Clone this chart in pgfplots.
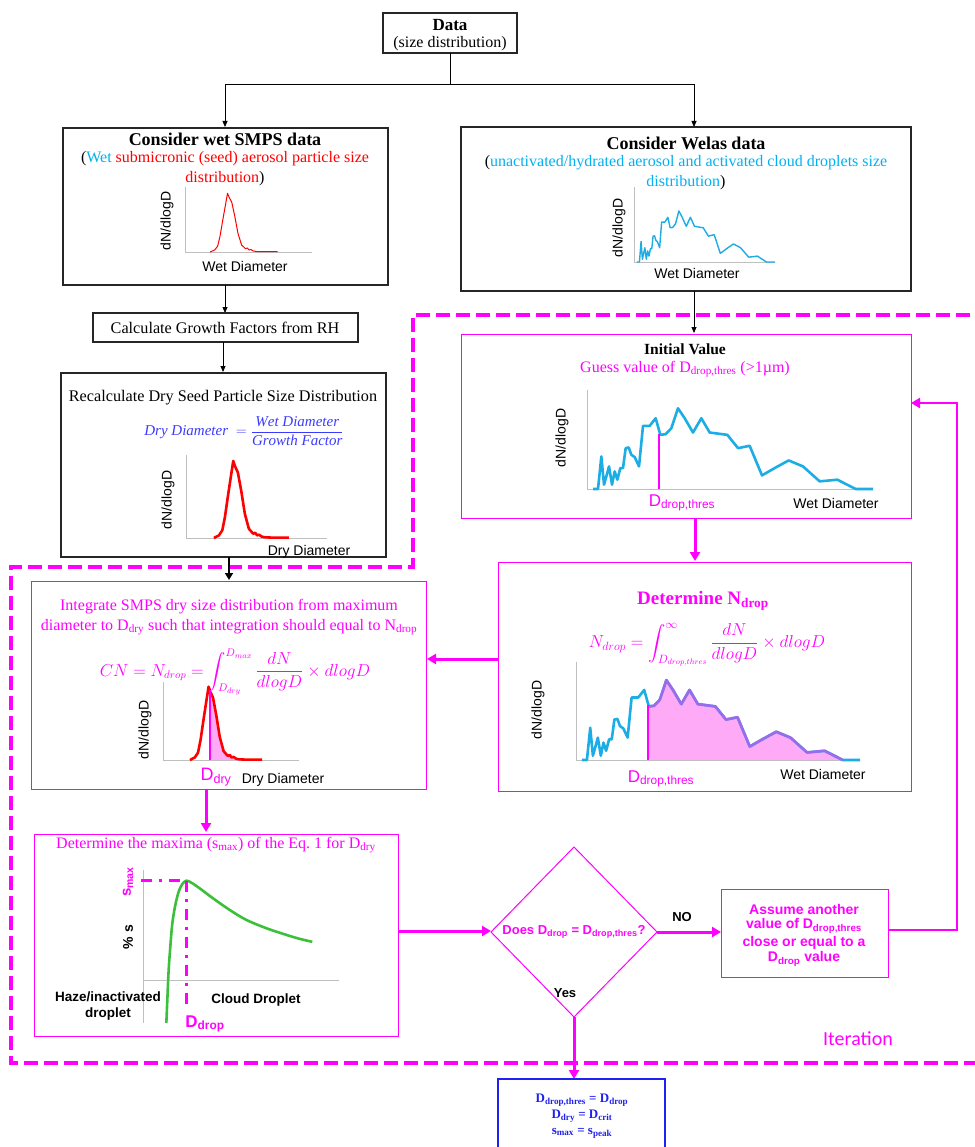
\documentclass[border=0pt]{standalone}
\usepackage{pgfplots}
\pgfplotsset{compat=1.18}
\usepackage{pgfplotstable}
\usetikzlibrary{arrows.meta}
\usepackage{exscale}
\usepackage{fontspec}
\setmainfont{Liberation Serif}
\setsansfont{Liberation Sans}
\newfontfamily\calibri{Carlito}
\definecolor{mag}{HTML}{FF00FF}
\definecolor{cyanl}{HTML}{1CADE4}
\definecolor{subcyan}{HTML}{00B0F0}
\definecolor{blu}{HTML}{3B3BFF}
\definecolor{fblue}{HTML}{2020F0}
\definecolor{grn}{HTML}{3CC03C}
\definecolor{pinkfill}{HTML}{FFAAF6}
\definecolor{purp}{HTML}{9A6BEA}
\definecolor{axgray}{HTML}{BFBFBF}
\newcommand\fs[1]{\fontsize{#1}{#1}\selectfont}
\newcommand\sub[1]{\textsubscript{#1}}

\pgfplotstableread{
x y
430 0
445 0
455 98
463 13
470 38
478 68
487 13
495 53
503 28
512 63
520 63
528 123
537 125
545 103
555 96
568 68
580 190
600 190
618 213
632 163
648 165
665 183
685 243
705 213
730 170
755 213
780 170
833 163
865 123
900 130
937 41
975 63
1017 86
1060 68
1110 23
1163 28
1218 0
1270 0
}\welas

\pgfplotstableread{
x y
630 167
632 163
648 165
665 183
685 243
705 213
730 170
755 213
780 170
833 163
865 123
900 130
937 41
975 63
1017 86
1060 68
1110 23
1163 28
1218 0
}\welasfill

\pgfplotstableread{
x y
84 0
99 8
109 23
117 63
127 133
136 193
142 233
147 218
156 198
166 143
177 73
189 28
202 13
208 16
214 8
220 10
228 4
239 2
264 1
309 1
}\smps

\pgfplotstableread{
x y
145 224
147 218
156 198
166 143
177 73
189 28
202 13
208 16
214 8
220 10
228 4
239 2
264 1
309 1
}\smpsfill

\pgfplotstableread{
x y
70 -128
73 -58
77 32
82 102
88 172
97 227
107 267
118 290
130 300
145 294
170 277
210 247
260 212
310 182
370 157
430 137
470 125
508 116
}\kohler

\pgfplotsset{
 mini/.style={scale only axis, axis x line=bottom, axis y line=left,
   axis line style={draw=axgray, line width=0.8pt, -},
   x axis line style={-}, y axis line style={-},
   every inner x axis line/.append style={-},
   every outer x axis line/.append style={-},
   every inner y axis line/.append style={-},
   every outer y axis line/.append style={-},
   xtick=\empty, ytick=\empty, clip=false, anchor=south west},
}

\begin{document}
\begin{tikzpicture}[x=1pt,y=1pt, >={Triangle[length=6pt,width=5pt]},
  magarrow/.style={mag, line width=3pt, -{Triangle[length=9pt,width=10pt]}},
  blkbox/.style={draw=black!85, line width=1.4pt},
  magbox/.style={draw=mag, line width=1pt}]
\path[use as bounding box] (0,0) rectangle (974,-1147);

% ---------- iteration dashed region ----------
\draw[mag, line width=4.7pt, dash pattern=on 14pt off 6pt, line join=miter]
  (990,-315) -- (413,-315) -- (413,-567) -- (11,-567) -- (11,-1063) -- (990,-1063);

% ---------- Data box ----------
\draw[blkbox] (383,-13) rectangle (517,-53);
\node[font=\bfseries\fs{17}] at (450,-25) {Data};
\node[font=\fs{16}] at (450,-44) {(size distribution)};
\draw[line width=0.8pt] (450,-53) -- (450,-84);
\draw[line width=0.8pt] (225,-84) -- (694,-84);
\draw[line width=0.8pt,->] (225,-84) -- (225,-127);
\draw[line width=0.8pt,->] (694,-84) -- (694,-127);

% ---------- Consider wet SMPS ----------
\draw[blkbox] (63,-128) rectangle (388,-285);
\node[font=\bfseries\fs{18}] at (225,-139) {Consider wet SMPS data};
\node[font=\fs{16}] at (225,-159) {(\textcolor{subcyan}{Wet} \textcolor{red}{submicronic (seed) aerosol particle size}};
\node[font=\fs{16}] at (225,-179) {\textcolor{red}{distribution})};
\begin{axis}[mini, at={(185pt,-252pt)}, width=127pt, height=65pt, xmin=0, xmax=424, ymin=0, ymax=258]
\addplot[red, line width=1pt, line join=round] table {\smps};
\end{axis}
\node[font=\sffamily\fs{14}, rotate=90] at (167,-221) {dN/dlogD};
\node[font=\sffamily\fs{14}] at (245,-266) {Wet Diameter};

% ---------- Consider Welas ----------
\draw[blkbox] (461,-127) rectangle (911,-291);
\node[font=\bfseries\fs{18}] at (686,-143) {Consider Welas data};
\node[font=\fs{16}] at (686,-163) {(\textcolor{subcyan}{unactivated/hydrated aerosol and activated cloud droplets size}};
\node[font=\fs{16}] at (686,-183) {\textcolor{subcyan}{distribution})};
\begin{axis}[mini, at={(634pt,-262pt)}, width=141pt, height=75pt, xmin=412, xmax=1270, ymin=0, ymax=357]
\addplot[cyanl, line width=1.4pt, line join=round] table {\welas};
\end{axis}
\node[font=\sffamily\fs{14}, rotate=90] at (619,-228) {dN/dlogD};
\node[font=\sffamily\fs{14}] at (697,-273) {Wet Diameter};
\draw[line width=0.8pt,->] (694,-291) -- (694,-333);

% ---------- Calculate Growth ----------
\draw[line width=0.8pt,->] (225,-285) -- (225,-313);
\draw[blkbox] (93,-313) rectangle (358,-342);
\node[font=\fs{16.2}] at (225,-328) {Calculate Growth Factors from RH};
\draw[line width=0.8pt,->] (223,-342) -- (223,-372);

% ---------- Recalculate ----------
\draw[blkbox] (61,-373) rectangle (386,-557);
\node[font=\fs{16.2}] at (223,-398) {Recalculate Dry Seed Particle Size Distribution};
\node[text=blu, font=\fs{15}, inner sep=0pt] at (244,-431) {$\displaystyle\mathit{Dry\ Diameter}\ =\frac{\mathit{Wet\ Diameter}}{\mathit{Growth\ Factor}}$};
\begin{axis}[mini, at={(186pt,-538pt)}, width=141pt, height=83pt, xmin=0, xmax=424, ymin=0, ymax=251]
\addplot[red, line width=2.6pt, line join=round] table {\smps};
\end{axis}
\node[font=\sffamily\fs{14}, rotate=90] at (168,-500) {dN/dlogD};
\node[font=\sffamily\fs{14}] at (309,-552) {Dry Diameter};
\draw[line width=2.2pt,-{Triangle[length=7pt,width=8pt]}] (229,-557) -- (229,-580);

% ---------- Initial Value ----------
\draw[magbox] (461,-334) rectangle (911,-518);
\node[font=\bfseries\fs{15.5}] at (685,-349) {Initial Value};
\node[text=mag, font=\fs{16}] at (685,-369) {Guess value of D\sub{drop,thres} (>1µm)};
\begin{axis}[mini, at={(587pt,-489pt)}, width=286pt, height=99pt, xmin=412, xmax=1270, ymin=0, ymax=298]
\addplot[cyanl, line width=2.6pt, line join=round] table {\welas};
\addplot[mag, line width=2.2pt] coordinates {(627,0) (627,166)};
\end{axis}
\node[font=\sffamily\fs{14}, rotate=90] at (562,-438) {dN/dlogD};
\node[text=mag, font=\sffamily\fs{17}] at (682,-503) {D\sub{drop,thres}};
\node[font=\sffamily\fs{14}] at (836,-503) {Wet Diameter};
\draw[magarrow] (695,-518) -- (695,-561);

% ---------- Determine N_drop ----------
\draw[magbox] (498,-562) rectangle (911,-791);
\node[text=mag, font=\bfseries\fs{19}] at (703,-601) {Determine N\sub{drop}};
\node[text=mag, font=\fs{17}, inner sep=0pt] at (707,-645) {$\displaystyle N_{drop}=\int_{D_{drop,thres}}^{\infty}\frac{dN}{dlogD}\times dlogD$};
\begin{axis}[mini, at={(576pt,-760pt)}, width=284pt, height=98pt, xmin=412, xmax=1270, ymin=0, ymax=298]
\addplot[fill=pinkfill, draw=none] table {\welasfill} \closedcycle;
\addplot[cyanl, line width=2.6pt, line join=round] table {\welas};
\addplot[purp, line width=2.6pt, line join=round] table {\welasfill};
\addplot[mag, line width=2.2pt] coordinates {(630,0) (630,167)};
\end{axis}
\node[font=\sffamily\fs{14}, rotate=90] at (538,-710) {dN/dlogD};
\node[text=mag, font=\sffamily\fs{17}] at (661,-779) {D\sub{drop,thres}};
\node[font=\sffamily\fs{14}] at (823,-774) {Wet Diameter};
\draw[magarrow] (498,-659) -- (427,-659);

% ---------- Integrate ----------
\draw[magbox] (31,-581) rectangle (426,-789);
\node[text=mag, font=\fs{16}] at (229,-607) {Integrate SMPS dry size distribution from maximum};
\node[text=mag, font=\fs{16}] at (229,-627) {diameter to D\sub{dry} such that integration should equal to N\sub{drop}};
\node[text=mag, font=\fs{16}, inner sep=0pt] at (235,-672) {$\displaystyle CN=N_{drop}=\int_{D_{dry}}^{D_{max}}\frac{dN}{dlogD}\times dlogD$};
\begin{axis}[mini, at={(163pt,-760pt)}, width=136pt, height=78pt, xmin=0, xmax=424, ymin=0, ymax=248]
\addplot[fill=pinkfill, draw=none] table {\smpsfill} \closedcycle;
\addplot[red, line width=2.6pt, line join=round] table {\smps};
\addplot[mag, line width=2pt] coordinates {(145,0) (145,224)};
\end{axis}
\node[font=\sffamily\fs{14}, rotate=90] at (145,-730) {dN/dlogD};
\node[text=mag, font=\sffamily\fs{18}] at (216,-777) {D\sub{dry}};
\node[font=\sffamily\fs{14}] at (283,-780) {Dry Diameter};
\draw[magarrow] (206,-789) -- (206,-832);

% ---------- Determine maxima ----------
\draw[magbox] (34,-834) rectangle (398,-1036);
\node[text=mag, font=\fs{16}] at (216,-845) {Determine the maxima (s\sub{max}) of the Eq.~1 for D\sub{dry}};
\begin{axis}[mini, axis x line=middle, x axis line style={-}, at={(143pt,-1023pt)}, width=196pt, height=153pt, xmin=0, xmax=588, ymin=-128, ymax=332]
\addplot[grn, line width=2.6pt, line join=round, smooth] table {\kohler};
\addplot[mag, line width=2.6pt, dash pattern=on 11pt off 7pt on 3pt off 7pt] coordinates {(-5,300) (130,300)};
\addplot[mag, line width=2.6pt, dash pattern=on 11pt off 7pt on 3pt off 7pt] coordinates {(130,300) (130,-73)};
\end{axis}
\node[text=mag, font=\sffamily\bfseries\fs{15}, rotate=90] at (128,-882) {s\sub{max}};
\node[font=\sffamily\bfseries\fs{14}, rotate=90] at (128,-937) {\% s};
\node[font=\sffamily\bfseries\fs{13.5}] at (108,-997) {Haze/inactivated};
\node[font=\sffamily\bfseries\fs{13.5}] at (108,-1014) {droplet};
\node[font=\sffamily\bfseries\fs{13.5}] at (256,-1000) {Cloud Droplet};
\node[text=mag, font=\sffamily\bfseries\fs{17}] at (205,-1024) {D\sub{drop}};
\draw[magarrow] (398,-931) -- (491,-931);

% ---------- Diamond ----------
\draw[mag, line width=1pt] (491,-932) -- (574,-847) -- (657,-932) -- (574,-1017) -- cycle;
\node[text=mag, font=\sffamily\bfseries\fs{13}] at (574,-932) {Does D\sub{drop} = D\sub{drop,thres}?};
\node[font=\sffamily\bfseries\fs{13}] at (565,-993) {Yes};
\draw[magarrow] (657,-932) -- (721,-932);
\node[font=\sffamily\bfseries\fs{13}] at (682,-917) {NO};

% ---------- Assume box ----------
\draw[magbox] (721,-889) rectangle (888,-977);
\node[text=mag, font=\sffamily\bfseries\fs{14}] at (804,-909) {Assume another};
\node[text=mag, font=\sffamily\bfseries\fs{14}] at (804,-926) {value of D\sub{drop,thres}};
\node[text=mag, font=\sffamily\bfseries\fs{14}] at (804,-943) {close or equal to a};
\node[text=mag, font=\sffamily\bfseries\fs{14}] at (804,-959) {D\sub{drop} value};
\draw[mag, line width=2.7pt, line join=miter, -{Triangle[length=9pt,width=10pt]}] (888,-930) -- (957,-930) -- (957,-403) -- (911,-403);

\node[text=mag, font=\calibri\fs{20}] at (858,-1039) {Iteration};

% ---------- Final ----------
\draw[magarrow] (574,-1017) -- (574,-1079);
\draw[draw=fblue, line width=1.2pt] (498,-1079) rectangle (665,-1160);
\node[text=fblue, font=\bfseries\fs{13}] at (582,-1100) {D\sub{drop,thres} = D\sub{drop}};
\node[text=fblue, font=\bfseries\fs{13}] at (582,-1116) {D\sub{dry} = D\sub{crit}};
\node[text=fblue, font=\bfseries\fs{13}] at (582,-1133) {s\sub{max} = s\sub{peak}};
\end{tikzpicture}
\end{document}
